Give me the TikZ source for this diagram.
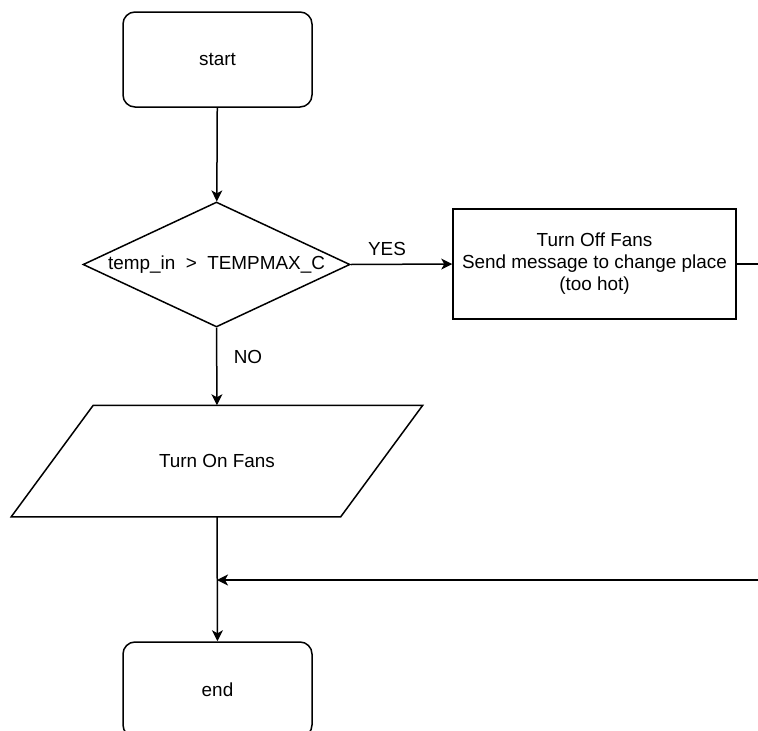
\documentclass[tikz,border=0pt]{standalone}
\usepackage{fontspec}
\setmainfont{Liberation Sans}
\usetikzlibrary{arrows.meta,shapes.geometric,calc}
\begin{document}
\begin{tikzpicture}[x=1pt,y=-1pt,
  font=\fontsize{18.9}{22}\selectfont,
  line width=1.5pt,
  terminal/.style={draw,rounded corners=12pt,minimum width=189pt,minimum height=95pt,inner sep=0pt},
  decision/.style={draw,diamond,aspect=2.136,minimum width=267pt,minimum height=125pt,inner sep=0pt},
  process/.style={draw,rectangle,minimum width=283pt,minimum height=110pt,align=center,inner sep=0pt},
  iobox/.style={rectangle,minimum width=328pt,minimum height=110pt,inner sep=0pt},
  flow/.style={-{Stealth[length=11pt,width=11pt,inset=3pt]}},
  lbl/.style={inner sep=0pt}]
\useasboundingbox (0,0) rectangle (758,731);
\clip (0,0) rectangle (758,731);

% shapes
\node[terminal] (start) at (217.5,59.5) {start};
\node[decision] (dec) at (216.5,264.5) {temp\_in \ > \ TEMPMAX\_C};
\node[process] (proc) at (594.5,264) {Turn Off Fans\\Send message to change place\\(too hot)};
\node[iobox] (io) at (217,461) {Turn On Fans};
\draw ($(io.north west)+(41,0)$) -- ($(io.north east)+(41,0)$)
   -- ($(io.south east)+(-41,0)$) -- ($(io.south west)+(-41,0)$) -- cycle;
\node[terminal] (end) at (217.5,689.5) {end};

% connectors
\coordinate (join) at (217,580);
\coordinate (far) at (780,580);
\draw[flow] (start) -- (dec);
\draw[flow] (dec.east) -- (proc.west);
\draw[flow] (dec.south) -- (io.north);
\draw[flow] (io.south) -- (end.north);
\draw[flow] (proc.east) -| (far) -- (join);

% branch labels
\node[lbl] (yes) at (387,249) {YES};
\node[lbl] (no) at (248,357) {NO};
\end{tikzpicture}
\end{document}
